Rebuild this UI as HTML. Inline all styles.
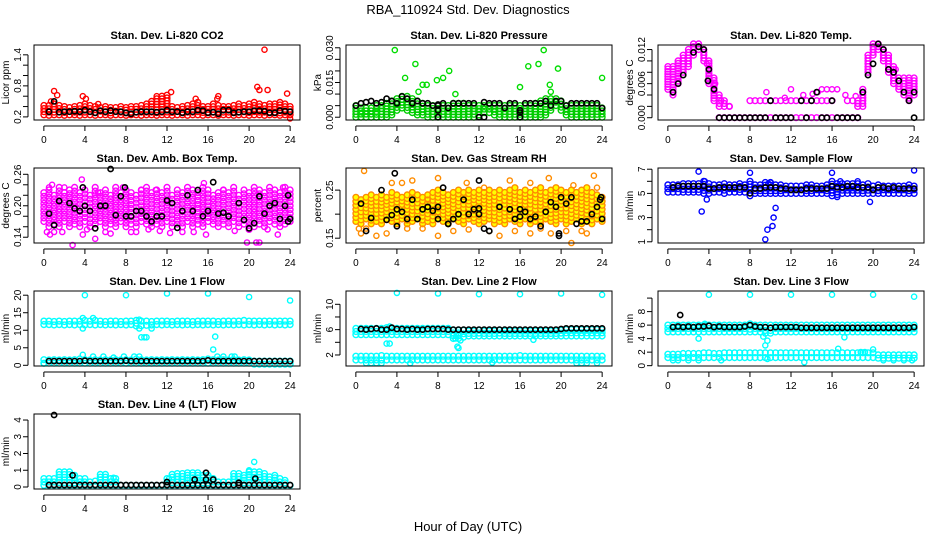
<!DOCTYPE html>
<html><head><meta charset="utf-8"><title>RBA_110924 Std. Dev. Diagnostics</title>
<style>
html,body{margin:0;padding:0;background:#fff;}
svg{display:block;font-family:"Liberation Sans",Arial,sans-serif;}
</style></head>
<body>
<svg id="chart" width="936" height="540" viewBox="0 0 936 540">
<rect x="0" y="0" width="936" height="540" fill="#fff"/>
<text x="468" y="14" text-anchor="middle" font-size="13">RBA_110924  Std. Dev. Diagnostics</text>
<text x="468" y="531" text-anchor="middle" font-size="13">Hour of Day (UTC)</text>
</svg>
<script>
// ---- data (half-hour grid index i -> hour i*0.5) ----
const xTicks = [0,4,8,12,16,20,24];

const co2Lo = [0.24,0.23,0.24,0.24,0.23,0.24,0.24, 0.23,0.24,0.24,0.23,0.24,0.24,0.23, 0.24,0.24,0.23,0.24,0.24,0.23,0.24, 0.24,0.23,0.24,0.24,0.23,0.24,0.24, 0.23,0.24,0.24,0.23,0.24,0.24,0.23, 0.24,0.24,0.23,0.24,0.24,0.23,0.24, 0.24,0.23,0.24,0.24,0.23,0.24,0.24];
const co2Hi = [0.42,0.42,0.45,0.42,0.40,0.38,0.40, 0.42,0.45,0.42,0.40,0.38,0.40,0.38, 0.38,0.40,0.38,0.40,0.40,0.42,0.45, 0.50,0.55,0.60,0.62,0.40,0.38,0.40, 0.42,0.45,0.48,0.40,0.40,0.45,0.42, 0.40,0.40,0.42,0.45,0.42,0.45,0.48, 0.45,0.42,0.45,0.45,0.48,0.45,0.40];
const co2OutH = [1,1.3,3.8,4.1,5.3,11,12.4,17,20.8,21,21.5,21.8,23.7,24,14.8,0.7,16.9];
const co2OutV = [0.70,0.62,0.60,0.55,0.45,0.60,0.68,0.60,0.78,0.72,1.50,0.72,0.65,0.17,0.55,0.50,0.55];
const co2Black = [null,0.30,0.50,0.29,0.30,0.30,0.31, 0.30,0.33,0.30,0.28,0.32,0.30,0.32, 0.30,0.30,0.28,0.26,0.29,0.30,0.30, 0.30,0.29,0.30,0.33,0.30,0.30,0.28, 0.30,0.30,0.33,0.32,0.28,0.29,0.26, 0.33,0.33,0.28,0.29,0.30,0.30,0.32, 0.32,0.31,0.28,0.28,0.32,0.31,0.30];

const prLo = [0,0,0,0,0,0,0, 0.001,0.003,0.004,0.003,0.002,0.001,0.001, 0,0,0,0,0,0,0, 0,0,0,0.001,0.002,0.002,0.001, 0,0,0,0,0,0,0, 0,0,0.001,0.003,0.005,0.003,0.001, 0,0,0,0,0,0,0];
const prHi = [0.005,0.004,0.004,0.004,0.005,0.005,0.006, 0.007,0.008,0.009,0.009,0.008,0.007,0.006, 0.005,0.005,0.005,0.005,0.005,0.006,0.006, 0.006,0.005,0.005,0.005,0.005,0.005,0.005, 0.005,0.005,0.005,0.005,0.005,0.005,0.005, 0.006,0.007,0.008,0.008,0.008,0.007,0.005, 0.005,0.005,0.005,0.005,0.005,0.005,0.004];
const prOutH = [3.8,4.8,5.8,6.1,6.5,6.9,7.9,8.5,9.1,9.7,16,16.8,17.8,18.3,18.9,19,19.7,24,0.6,2];
const prOutV = [0.029,0.017,0.023,0.011,0.014,0.014,0.016,0.017,0.020,0.010,0.013,0.022,0.023,0.029,0.014,0.011,0.021,0.017,0.002,0.002];
const prBlack = [0.005,0.006,0.0065,0.007,0.006,0.0065,0.008, 0.007,0.006,0.009,0.008,0.006,0.007,0.006, 0.006,0.005,0.0055,0.006,0.004,0.006,0.006, 0.006,0.006,0.006,0,0.0065,0.006,0.006, 0.006,0.004,0.006,0.006,0.003,0.006,0.006, 0.006,0.006,0.007,0.005,0.007,0.007,0.005, 0.006,0.006,0.006,0.006,0.006,0.006,0.004];
const prBlackOutH = [8,8,12.5,16,16,8];
const prBlackOutV = [0,0.003,0,0,0.002,0.005];

const tpLo = [0.005,0.004,0.006,0.008,0.009,0.011,0.012, 0.010,0.006,0.003,0.002,0.002,0.002,null, null,null,null,null,null,null,null, null,null,null,null,null,null,null, null,null,null,null,null,null,null, null,null,0.002,0.002,0.008,0.011,0.012, 0.010,0.008,0.006,0.005,0.004,0.003,0.004];
const tpHi = [0.009,0.009,0.010,0.011,0.012,0.013,0.013, 0.012,0.010,0.007,0.004,0.003,0.002,null, null,null,null,null,null,null,null, null,null,null,null,null,null,null, null,null,null,null,null,null,null, null,null,0.003,0.005,0.011,0.013,0.013, 0.012,0.011,0.009,0.007,0.007,0.007,0.007];
const tpZero = [null,null,null,null,null,null,null, null,null,null,0,0,0,0, 0,0,0,0,0,0,0, 0,0,0,0,0,0,0, 0,0,0,0,0,0,0, 0,0,0,null,null,null,null, null,null,null,null,null,null,null];
const tpMid = [null,null,null,null,null,null,null, null,null,null,null,null,null,null, null,null,0.003,0.003,0.003,0.003,0.003, 0.003,0.003,0.003,0.003,0.003,0.003,0.003, 0.003,0.003,0.003,0.003,0.003,null,null, 0.003,0.003,null,null,null,null,null, null,null,null,null,null,null,null];
const tpOutH = [9.6,11.4,12,13.2,14.1,14.6,15,15.5,16,16.5,17.3,18.3,1,3.8,4.6,5.2,6,20.5,22.2];
const tpOutV = [0.0045,0.0035,0.005,0.004,0.0042,0.0045,0.005,0.005,0.005,0.005,0.004,0.0038,0.007,0.0095,0.006,0.003,0.002,0.0125,0.0085];
const tpBlack = [null,0.0045,0.006,0.0075,null,0.0115,0.0125, 0.012,0.0085,0.005,0,0,0,0, 0,0,0,0,0,0,0.003, 0,0,0,0,null,0.003,0, 0.003,0.0045,0,0,0.003,0,0, 0,0,0,0.0045,0.0075,0.0095,0.013, 0.012,0.0085,0.008,0.0065,0.0045,0.003,0.0045];
const tpBlackOutH = [24,3.9];
const tpBlackOutV = [0,0.0065];

const abLo = [0.17,0.16,0.165,0.16,0.17,0.16,0.165, 0.16,0.17,0.16,0.165,0.17,0.16,0.165, 0.16,0.17,0.16,0.165,0.16,0.17,0.165, 0.16,0.165,0.16,0.17,0.16,0.165,0.16, 0.17,0.16,0.165,0.16,0.17,0.165,0.16, 0.165,0.16,0.17,0.16,0.165,0.155,0.16, 0.165,0.16,0.17,0.165,0.16,0.165,0.17];
const abHi = [0.225,0.23,0.22,0.235,0.225,0.23,0.235, 0.225,0.23,0.22,0.235,0.225,0.23,0.22, 0.235,0.225,0.23,0.225,0.22,0.23,0.235, 0.225,0.23,0.225,0.235,0.22,0.23,0.225, 0.235,0.23,0.225,0.235,0.23,0.22,0.225, 0.23,0.225,0.235,0.22,0.23,0.225,0.235, 0.23,0.225,0.235,0.23,0.225,0.235,0.23];
const abOutH = [0.5,0.8,1,2,2.8,3.7,3.8,5,5.3,6.5,7.7,9.5,10.9,11.3,15.6,15.8,17.5,19.8,20.7,21,22.8,23.3,13.5,0.3,1.8,4.2,6,8.5,10.2,12.3,14.6,18.6,21.8,0.6,9];
const abOutV = [0.235,0.24,0.15,0.235,0.125,0.25,0.145,0.137,0.225,0.147,0.235,0.23,0.23,0.152,0.243,0.145,0.23,0.13,0.13,0.13,0.145,0.235,0.15,0.15,0.15,0.155,0.15,0.15,0.155,0.148,0.15,0.152,0.155,0.145,0.15];
const abBlack = [null,0.185,0.163,0.209,null,0.205,0.195, 0.19,0.2,0.19,0.157,0.2,0.2,0.27, 0.182,0.218,0.18,0.18,0.19,0.19,0.18, 0.17,0.18,0.18,0.21,0.205,0.158,0.19, 0.22,0.19,0.23,0.18,0.19,0.245,0.185, 0.187,0.18,null,0.205,0.173,0.157,0.167, 0.218,0.185,0.2,0.205,0.175,0.2,0.175];
const abBlackOutH = [3.8,7.9,23.8,23.8];
const abBlackOutV = [0.235,0.235,0.17,0.22];

const rhLo = [0.185,0.18,0.19,0.18,0.185,0.18,0.19, 0.185,0.18,0.19,0.18,0.185,0.19,0.18, 0.185,0.18,0.19,0.185,0.18,0.19,0.185, 0.18,0.19,0.185,0.18,0.185,0.19,0.18, 0.185,0.18,0.19,0.185,0.18,0.19,0.18, 0.185,0.18,0.19,0.185,0.18,0.19,0.18, 0.185,0.19,0.18,0.185,0.18,0.19,0.185];
const rhHi = [0.235,0.23,0.235,0.24,0.235,0.24,0.235, 0.245,0.24,0.235,0.24,0.245,0.24,0.235, 0.24,0.245,0.25,0.245,0.24,0.245,0.25, 0.245,0.25,0.245,0.25,0.245,0.25,0.245, 0.25,0.245,0.25,0.255,0.245,0.25,0.245, 0.25,0.255,0.245,0.25,0.255,0.25,0.245, 0.25,0.245,0.25,0.255,0.245,0.24,0.235];
const rhOutH = [0.8,0.5,2,3.5,4.5,5.5,8,8,10.8,12.5,14,15,17,17,18.8,19,21,21.2,22.5,23.2,23.5,7,6.5,1,3,5,9.5,11,13,15.5,18,20.5,22,0.3];
const rhOutV = [0.29,0.16,0.155,0.265,0.265,0.27,0.275,0.155,0.265,0.255,0.155,0.27,0.265,0.16,0.275,0.16,0.14,0.26,0.16,0.28,0.255,0.23,0.17,0.17,0.16,0.17,0.165,0.168,0.165,0.165,0.17,0.165,0.165,0.17];
const rhBlack = [null,0.222,0.165,0.192,null,0.25,0.188, 0.198,0.21,0.205,0.19,0.23,0.19,0.21, 0.215,0.207,0.215,0.255,0.18,0.19,0.2, 0.23,0.2,0.21,0.212,0.17,0.165,null, 0.215,null,0.21,0.19,0.21,0.205,0.19, 0.195,0.175,0.205,0.225,0.215,0.235,0.222, 0.235,0.18,0.185,0.185,0.2,0.215,0.19];
const rhBlackOutH = [3.8,8,12,12,16,19.8,19.8,23.9,23.8,4,9];
const rhBlackOutV = [0.285,0.19,0.27,0.2,0.195,0.16,0.155,0.235,0.23,0.175,0.18];

const sfLo = [5.1,5.1,5.1,5.1,5.1,5.1,5.1, 5.0,5.0,5.1,5.1,5.0,5.1,5.1, 5.1,5.1,4.8,5.0,5.0,5.0,5.0, 5.0,5.0,5.0,5.0,5.0,5.0,5.0, 5.0,5.0,5.0,5.0,4.8,4.9,5.0, 5.0,5.0,5.0,5.0,5.0,5.0,5.0, 5.0,5.0,5.0,5.0,5.0,5.0,5.0];
const sfHi = [5.7,5.7,5.7,5.8,5.8,5.8,5.8, 6.0,5.8,5.7,5.7,5.8,5.7,5.7, 5.8,5.7,6.0,5.7,5.7,5.9,5.9, 5.7,5.7,5.6,5.6,5.6,5.6,5.7, 5.7,5.6,5.6,5.7,6.0,5.8,5.8, 5.8,5.8,5.8,5.7,5.8,5.6,5.7, 5.6,5.6,5.6,5.6,5.6,5.7,5.6];
const sfOutH = [3,3.3,3.8,8,9.5,9.7,10.2,10.3,10.5,16,16.5,19.7,24,3.6,10,9.8,16.8,18.5];
const sfOutV = [6.8,3.5,4.5,6.7,1.2,2.0,2.3,3.0,3.8,6.7,4.7,4.3,6.9,6.0,5.9,5.8,6.0,6.0];
const sfBlack = [null,5.5,5.6,5.6,5.6,5.6,5.6, 5.6,5.4,5.4,5.5,5.5,5.5,5.5, 5.5,5.5,5.0,5.4,5.4,5.5,5.5, 5.5,5.4,5.4,5.3,5.3,5.3,5.4, 5.4,5.4,5.4,5.4,5.6,5.5,5.5, 5.6,5.6,5.5,5.5,5.5,5.3,5.5, 5.5,5.4,5.5,5.4,5.4,5.4,5.4];

const l1HiBandLo = [11.6,11.6,11.5,11.6,11.5,11.6,11.5, 11.6,11.5,11.6,11.5,11.6,11.5,11.6, 11.5,11.6,11.5,11.6,11.2,11.3,11.4, 11.5,11.6,11.5,11.6,11.5,11.6,11.5, 11.6,11.5,11.6,11.5,11.6,11.5,11.6, 11.5,11.6,11.5,11.6,11.5,11.6,11.5, 11.6,11.5,11.6,11.5,11.6,11.5,11.6];
const l1HiBandHi = [12.6,12.6,12.5,12.6,12.5,12.6,12.6, 12.6,12.8,12.6,12.8,12.6,12.5,12.6, 12.6,12.5,12.6,12.6,12.8,12.6,12.6, 12.5,12.6,12.6,12.6,12.5,12.6,12.6, 12.6,12.5,12.6,12.6,12.6,12.6,12.5, 12.6,12.6,12.6,12.6,12.8,12.6,12.6, 12.6,12.6,12.6,12.6,12.6,12.6,12.6];
const l1LoBandLo = [0.6,0.6,0.6,0.6,0.6,0.6,0.6, 0.6,0.6,0.6,0.6,0.6,0.6,0.6, 0.6,0.6,0.6,0.6,0.6,0.6,0.6, 0.6,0.6,0.6,0.6,0.6,0.6,0.6, 0.6,0.6,0.6,0.6,0.6,0.6,0.6, 0.6,0.6,0.6,0.6,0.6,0.6,0.3, 0.3,0.3,0.3,0.3,0.3,0.3,0.3];
const l1LoBandHi = [1.6,1.5,1.6,1.5,1.6,1.5,1.6, 1.8,1.6,1.5,1.6,1.5,1.6,1.5, 1.6,1.5,1.6,1.5,1.8,1.6,1.5, 1.6,1.5,1.6,1.5,1.6,1.5,1.6, 1.5,1.6,1.5,1.6,1.8,1.6,1.5, 1.6,1.5,1.6,1.5,1.6,1.5,1.2, 1.2,1.2,1.2,1.2,1.2,1.2,1.2];
const l1OutH = [4,8,12,16,20,24,3.8,3.8,4.8,4.8,5.8,6.8,7.8,8.8,9.3,9.3,9.5,9.8,10,9.3,10.5,16.5,16.7,16.9,17.5,18.3,18.6,18.9,3.8,0];
const l1OutV = [20,20,20.5,20.5,19.5,18.5,3,13.5,13.5,2.5,2.5,2.2,2.5,2.5,2.5,13,8,8,8,10.5,10.5,4.5,8.2,2.5,2.5,2.5,2.5,1.5,10.5,0.5];
const l1Black = [null,1.2,1.2,1.2,1.2,1.2,1.2, 1.2,1.3,1.2,1.2,1.2,1.2,1.2, 1.2,1.2,1.3,1.2,1.2,1.2,1.2, 1.2,1.2,1.2,1.2,1.2,1.2,1.2, 1.2,1.2,1.2,1.2,1.4,1.2,1.2, 1.2,1.2,1.2,1.2,1.2,1.2,1.2, 1.2,1.2,1.2,1.2,1.2,1.2,1.2];

const l2HiBandLo = [5.2,5.2,5.2,5.2,5.2,5.2,5.2, 5.2,5.2,5.2,5.2,5.2,5.2,5.2, 5.2,5.2,5.2,5.2,5.2,4.6,4.6, 4.8,5.0,5.0,5.0,5.0,5.0,5.0, 5.0,5.0,5.0,5.0,5.0,5.0,5.0, 5.0,5.0,5.0,5.0,5.0,5.0,5.0, 5.0,5.0,5.0,5.0,5.0,5.0,5.0];
const l2HiBandHi = [6.2,6.2,6.2,6.2,6.2,6.2,6.3, 6.2,6.2,6.2,6.2,6.2,6.2,6.2, 6.2,6.2,6.2,6.2,6.2,5.9,5.9, 5.9,5.8,5.8,5.9,5.8,5.8,5.8, 5.9,5.8,5.8,5.8,5.8,5.8,5.8, 5.8,5.8,5.8,5.8,5.8,5.9,6.0, 6.0,6.0,6.0,6.0,6.0,6.0,6.0];
const l2LoBandLo = [1.2,1.2,1.2,1.2,1.2,1.2,1.2, 1.2,1.2,1.2,1.2,1.2,1.2,1.2, 1.2,1.2,1.2,1.2,1.2,1.2,1.2, 1.2,1.2,1.2,1.2,1.2,1.2,1.2, 1.2,1.2,1.2,1.2,1.2,1.2,1.2, 1.2,1.2,1.2,1.2,1.2,1.2,1.2, 1.2,1.2,1.2,1.2,1.2,1.2,1.2];
const l2LoBandHi = [1.8,1.8,1.8,1.8,1.8,1.9,1.8, 1.8,1.8,1.8,1.8,1.8,1.8,1.8, 1.8,1.8,1.8,1.8,1.8,1.8,1.8, 1.8,1.8,1.8,1.8,1.8,1.8,1.8, 1.8,1.8,1.8,1.8,1.9,1.8,1.8, 1.8,1.8,1.8,1.8,1.8,1.8,1.8, 1.8,1.8,1.8,1.8,1.8,1.8,1.8];
const l2OutH = [4,8,12,16,20,24,3,3.3,9.7,9.9,10,10.2,9.8,17.3,13.3,1,2,5.3,21.5,22,22.5,23.5,3.3,1.5,2.5];
const l2OutV = [11.8,11.7,11.6,11.6,11.7,11.5,3.8,3.8,4.6,3.3,3.1,4.3,5.0,4.4,0.8,0.7,0.7,0.7,0.7,0.7,0.7,0.7,6.5,0.7,0.7];
const l2Black = [null,6.1,6.0,6.1,6.2,6.0,6.0, 6.3,6.1,6.1,6.0,6.1,6.0,6.0, 6.1,6.1,6.1,6.1,6.0,6.0,6.0, 6.0,6.0,6.0,6.0,6.0,6.0,6.0, 6.0,6.0,6.0,6.0,6.0,6.0,6.0, 6.0,6.0,6.0,6.0,6.0,6.1,6.2, 6.2,6.2,6.2,6.2,6.2,6.2,6.2];

const l3HiBandLo = [5.0,5.0,5.0,5.0,5.0,5.0,5.0, 5.0,5.0,5.0,5.0,5.0,5.0,5.0, 5.0,5.0,5.0,5.0,5.0,4.8,4.8, 5.0,5.0,5.0,5.0,5.0,5.0,5.0, 5.0,5.0,5.0,5.0,5.0,5.0,5.0, 5.0,5.0,5.0,5.0,5.0,5.0,5.0, 5.0,5.0,5.0,5.0,5.0,5.0,5.0];
const l3HiBandHi = [6.0,6.0,6.0,6.0,6.0,6.0,6.0, 6.0,6.0,6.0,6.0,6.0,6.0,6.0, 6.0,6.0,6.2,6.0,6.0,6.0,6.0, 6.0,6.0,6.0,6.0,6.0,6.0,6.0, 6.0,6.0,6.0,6.0,6.0,6.0,6.0, 6.0,6.0,6.0,6.0,6.0,6.0,6.0, 6.0,6.0,6.0,6.0,6.0,6.0,6.0];
const l3LoBandLo = [1.2,1.2,1.2,1.2,1.2,1.2,1.2, 1.2,1.2,1.2,1.2,1.2,1.2,1.2, 1.2,1.2,1.2,1.2,1.2,1.2,1.2, 1.2,1.2,1.2,1.2,1.2,1.2,1.2, 1.2,1.2,1.2,1.2,1.2,1.2,1.2, 1.2,1.2,1.2,1.2,1.2,1.2,1.1, 1.1,1.1,1.1,1.1,1.1,1.1,1.1];
const l3LoBandHi = [1.7,1.7,1.7,1.8,1.8,1.8,1.8, 1.9,1.9,1.8,1.8,1.9,1.9,1.9, 1.9,1.9,1.9,1.9,1.9,1.9,1.9, 1.9,1.9,1.9,1.9,1.9,1.9,1.9, 1.9,1.9,1.9,1.9,1.9,1.9,1.9, 1.9,1.9,1.9,1.9,1.9,1.9,1.6, 1.6,1.6,1.6,1.6,1.6,1.6,1.6];
const l3OutH = [4,8,12,16,20,24,3,3.6,9.5,9.7,9.3,13.3,16.6,17.2,18.8,19.2,20,0.5,1,2,3,5.2,9.7,21,22,23,23.8];
const l3OutV = [10.5,10.5,10.5,10.5,10.5,10.2,4.0,6.2,3.0,3.7,4.3,0.5,2.5,4.2,2.0,2.0,2.4,0.8,0.8,0.8,0.8,0.8,1.0,0.8,0.8,0.8,0.8];
const l3Black = [null,5.7,5.8,5.7,5.8,5.7,5.8, 5.8,5.9,5.7,5.8,5.7,5.7,5.7, 5.7,5.8,6.0,5.8,5.7,5.7,5.6, 5.7,5.7,5.7,5.7,5.7,5.6,5.6, 5.6,5.6,5.6,5.6,5.6,5.6,5.6, 5.6,5.6,5.6,5.6,5.6,5.6,5.6, 5.6,5.6,5.6,5.6,5.6,5.6,5.7];
const l3BlackOutH = [1.2];
const l3BlackOutV = [7.5];

const l4Lo = [0.1,0.1,0.1,0.1,0.1,0.1,0.1, 0.1,0.1,0.1,0.1,0.1,0.1,0.1, 0.1,0.1,0.1,0.1,0.1,0.1,0.1, 0.1,0.1,0.1,0.1,0.1,0.1,0.1, 0.1,0.1,0.1,0.1,0.1,0.1,0.1, 0.1,0.1,0.1,0.1,0.1,0.1,0.1, 0.1,0.1,0.1,0.1,0.1,0.1,0.1];
const l4Hi = [0.5,0.5,0.5,0.9,0.9,0.9,0.7, 0.5,0.5,0.3,0.35,0.75,0.75,0.5, 0.5,0.2,0.2,0.2,0.2,0.2,0.2, 0.2,0.2,0.2,0.5,0.75,0.8,0.8, 0.85,0.85,0.85,0.7,0.7,0.5,0.3, 0.3,0.3,0.8,0.8,0.7,0.9,0.9, 0.9,0.8,0.6,0.7,0.5,0.4,0.2];
const l4OutH = [20.5,20,6.8,12.2];
const l4OutV = [1.5,1.0,0.55,0.5];
const l4Black = [null,0.12,0.12,0.12,0.12,0.12,0.12, 0.12,0.12,0.12,0.12,0.12,0.12,0.12, 0.12,0.12,0.12,0.12,0.12,0.12,0.12, 0.12,0.12,0.12,0.12,0.12,0.12,0.12, 0.12,0.12,0.12,0.12,0.12,0.12,0.12, 0.12,0.12,0.12,0.12,0.12,0.12,0.12, 0.12,0.12,0.12,0.12,0.12,0.12,0.12];
const l4BlackOutH = [1,2.8,12,14.7,15.8,15.8,16.5,19,20.6];
const l4BlackOutV = [4.3,0.7,0.3,0.45,0.85,0.45,0.45,0.25,0.5];

// ---- layout ----
const NS = 'http://www.w3.org/2000/svg';
const svg = document.getElementById('chart');
const colLeft = [34, 346, 658];
const rowTop = [45, 168, 291, 414];
const BW = 266, BH = 75;

function mk(tag, attrs, parent) {
  const e = document.createElementNS(NS, tag);
  for (const k in attrs) e.setAttribute(k, attrs[k]);
  (parent || svg).appendChild(e);
  return e;
}

const panels = [
  {key:'co2', c:0, r:0, title:'Stan. Dev. Li-820 CO2', ylab:'Licor ppm', ymin:0.14, ymax:1.59,
   yt:[0.2,0.4,0.6,0.8,1.0,1.2,1.4], yl:['0.2','','','0.8','','','1.4'],
   bands:[[co2Lo,co2Hi,'#ff0000','none']], pts:[[co2OutH,co2OutV,'#ff0000']], black:co2Black},
  {key:'pressure', c:1, r:0, title:'Stan. Dev. Li-820 Pressure', ylab:'kPa', ymin:-0.0012, ymax:0.0312,
   yt:[0,0.005,0.01,0.015,0.02,0.025,0.03], yl:['0.000','','','0.015','','','0.030'],
   bands:[[prLo,prHi,'#00cc00','none']], pts:[[prOutH,prOutV,'#00dd00']], black:prBlack, bpts:[prBlackOutH,prBlackOutV]},
  {key:'temp', c:2, r:0, title:'Stan. Dev. Li-820 Temp.', ylab:'degrees C', ymin:-0.0004, ymax:0.0128,
   yt:[0,0.002,0.004,0.006,0.008,0.010,0.012], yl:['0.000','','','0.006','','','0.012'],
   bands:[[tpLo,tpHi,'#ff00ff','none'],[tpZero,tpZero,'#ff00ff','none'],[tpMid,tpMid,'#ff00ff','none']],
   pts:[[tpOutH,tpOutV,'#ff00ff']], black:tpBlack, bpts:[tpBlackOutH,tpBlackOutV]},
  {key:'ambtemp', c:0, r:1, title:'Stan. Dev. Amb. Box Temp.', ylab:'degrees C', ymin:0.129, ymax:0.272,
   yt:[0.14,0.16,0.18,0.20,0.22,0.24,0.26], yl:['0.14','','','0.20','','','0.26'],
   bands:[[abLo,abHi,'#ff00ff','none']], pts:[[abOutH,abOutV,'#ff00ff']], black:abBlack, bpts:[abBlackOutH,abBlackOutV], step:3.5},
  {key:'rh', c:1, r:1, title:'Stan. Dev. Gas Stream RH', ylab:'percent', ymin:0.14, ymax:0.296,
   yt:[0.15,0.20,0.25], yl:['0.15','','0.25'],
   bands:[[rhLo,rhHi,'#ff8c00','#ffff00']], pts:[[rhOutH,rhOutV,'#ff8c00']], black:rhBlack, bpts:[rhBlackOutH,rhBlackOutV], step:3.5},
  {key:'sampleflow', c:2, r:1, title:'Stan. Dev. Sample Flow', ylab:'ml/min', ymin:0.9, ymax:7.1,
   yt:[1,2,3,4,5,6,7], yl:['1','','3','','5','','7'],
   bands:[[sfLo,sfHi,'#0000ff','none']], pts:[[sfOutH,sfOutV,'#0000ff']], black:sfBlack},
  {key:'line1', c:0, r:2, title:'Stan. Dev. Line 1 Flow', ylab:'ml/min', ymin:-0.2, ymax:21.2,
   yt:[0,5,10,15,20], yl:['0','5','10','15','20'],
   bands:[[l1HiBandLo,l1HiBandHi,'#00ffff','none'],[l1LoBandLo,l1LoBandHi,'#00ffff','none']], pts:[[l1OutH,l1OutV,'#00ffff']], black:l1Black},
  {key:'line2', c:1, r:2, title:'Stan. Dev. Line 2 Flow', ylab:'ml/min', ymin:0.26, ymax:12.1,
   yt:[2,4,6,8,10], yl:['2','','6','','10'],
   bands:[[l2HiBandLo,l2HiBandHi,'#00ffff','none'],[l2LoBandLo,l2LoBandHi,'#00ffff','none']], pts:[[l2OutH,l2OutV,'#00ffff']], black:l2Black},
  {key:'line3', c:2, r:2, title:'Stan. Dev. Line 3 Flow', ylab:'ml/min', ymin:-0.05, ymax:11.05,
   yt:[0,2,4,6,8,10], yl:['0','2','4','6','8',''],
   bands:[[l3HiBandLo,l3HiBandHi,'#00ffff','none'],[l3LoBandLo,l3LoBandHi,'#00ffff','none']], pts:[[l3OutH,l3OutV,'#00ffff']], black:l3Black, bpts:[l3BlackOutH,l3BlackOutV]},
  {key:'line4', c:0, r:3, title:'Stan. Dev. Line 4 (LT) Flow', ylab:'ml/min', ymin:-0.12, ymax:4.36,
   yt:[0,1,2,3,4], yl:['0','1','2','3','4'],
   bands:[[l4Lo,l4Hi,'#00ffff','none']], pts:[[l4OutH,l4OutV,'#00ffff']], black:l4Black, bpts:[l4BlackOutH,l4BlackOutV]}
];

panels.forEach(p => {
  const L = colLeft[p.c], T = rowTop[p.r];
  const xs = h => L + (h + 0.96) / 25.92 * BW;
  const ys = v => T + BH - (v - p.ymin) / (p.ymax - p.ymin) * BH;
  const g = mk('g', {});
  
  

  const t = mk('text', {x: L + BW/2, y: T - 6, 'text-anchor':'middle', 'font-size':11, 'font-weight':'bold'}, g);
  t.textContent = p.title;
  
  

  const yl = mk('text', {x:0, y:0, 'text-anchor':'middle', 'font-size':10, transform:`translate(${L-25},${T+BH/2}) rotate(-90)`}, g);
  yl.textContent = p.ylab;
  
  

  const marks = mk('g', {fill:'none'}, g);
  
  
  const circ = (h, v, col, fill, sw, r) => {
    const c = mk('circle', {cx: xs(h).toFixed(1), cy: ys(v).toFixed(1), r: r || 2.6, stroke: col, 'stroke-width': sw, fill: fill}, marks);
    
    
  };
  const step = p.step || 2.5;
  p.bands.forEach(b => {
    const lo = b[0], hi = b[1];
    for (let i = 0; i < lo.length; i++) {
      if (lo[i] == null || hi[i] == null) continue;
      const h = i * 0.5;
      const y0 = ys(lo[i]), y1 = ys(hi[i]);
      const span = y0 - y1;
      const n = Math.max(0, Math.floor(span / step));
      for (let k = 0; k <= n; k++) {
        const v = lo[i] + (hi[i] - lo[i]) * (n ? k / n : 0);
        circ(h, v, b[2], b[3], 1.4, 2.9);
      }
    }
  });
  p.pts.forEach(s => {
    for (let i = 0; i < Math.min(s[0].length, s[1].length); i++) circ(s[0][i], s[1][i], s[2], 'none', 1.4);
  });
  p.black.forEach((v, i) => { if (v != null) circ(i * 0.5, v, '#000', 'none', 1.6); });
  if (p.bpts) for (let i = 0; i < Math.min(p.bpts[0].length, p.bpts[1].length); i++) circ(p.bpts[0][i], p.bpts[1][i], '#000', 'none', 1.6);

  const box = mk('rect', {x:L, y:T, width:BW, height:BH, fill:'none', stroke:'#000', 'stroke-width':1}, g);
  
  

  const xa = mk('g', {}, g);
  
  
  mk('line', {x1: xs(0), x2: xs(24), y1: T+BH+6, y2: T+BH+6, stroke:'#000'}, xa);
  xTicks.forEach(h => {
    mk('line', {x1: xs(h), x2: xs(h), y1: T+BH+6, y2: T+BH+11, stroke:'#000'}, xa);
    const tl = mk('text', {x: xs(h), y: T+BH+23, 'text-anchor':'middle', 'font-size':10}, xa);
    tl.textContent = String(h);
    
    
  });

  const ya = mk('g', {}, g);
  
  
  mk('line', {x1: L-6, x2: L-6, y1: ys(p.yt[0]), y2: ys(p.yt[p.yt.length-1]), stroke:'#000'}, ya);
  p.yt.forEach((v, i) => {
    mk('line', {x1: L-11, x2: L-6, y1: ys(v), y2: ys(v), stroke:'#000'}, ya);
    if (p.yl[i]) {
      const tl = mk('text', {x:0, y:0, 'text-anchor':'middle', 'font-size':10, transform:`translate(${L-13},${ys(v)}) rotate(-90)`}, ya);
      tl.textContent = p.yl[i];
      
      
    }
  });
});
</script>
</body></html>
